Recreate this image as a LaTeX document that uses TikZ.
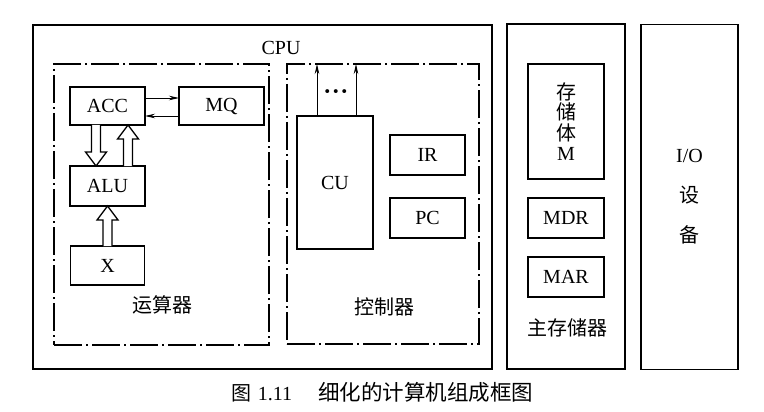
\documentclass[tikz,border=0pt]{standalone}
\usepackage{fontspec}
\setmainfont{Liberation Serif}
\newfontfamily\cjk{Noto Sans CJK SC}
\usetikzlibrary{calc,arrows.meta}
\tikzset{
  bigbox/.style={draw, line width=1.8pt, outer sep=0pt, inner sep=0pt},
  regbox/.style={draw, line width=1.5pt, outer sep=0pt, inner sep=0pt, font=\fontsize{20}{20}\selectfont},
  unitbox/.style={draw, line width=1.2pt, outer sep=0pt, inner sep=0pt,
    dash pattern=on 28pt off 4pt on 2pt off 4pt},
  lbl/.style={inner sep=0pt, font=\fontsize{20}{20}\selectfont},
  cjklbl/.style={inner sep=0pt, font=\fontsize{20}{20}\selectfont\cjk},
  hollow/.style={draw, line width=1.3pt, line join=miter, fill=white},
  thinarrow/.style={line width=0.9pt, -{Stealth[length=10pt,width=4.5pt]}},
}
\newcommand\hollowarrow[2]{%
  \coordinate (ha-s) at #1;
  \coordinate (ha-t) at #2;
  \coordinate (ha-b) at ($(ha-t)!14pt!(ha-s)$);
  \draw[hollow] ($(ha-s)!4.5pt!90:(ha-t)$) -- ($(ha-b)!4.5pt!90:(ha-t)$)
    -- ($(ha-b)!10.5pt!90:(ha-t)$) -- (ha-t) -- ($(ha-b)!10.5pt!-90:(ha-t)$)
    -- ($(ha-b)!4.5pt!-90:(ha-t)$) -- ($(ha-s)!4.5pt!-90:(ha-t)$);
}
\begin{document}
\begin{tikzpicture}[x=1pt,y=-1pt]
\useasboundingbox (0,0) rectangle (764,412);
% outer boxes
\node[bigbox, minimum width=459, minimum height=344] (cpu) at (262.5,197) {};
\node[lbl] (cpulabel) at (281,48) {CPU};
\node[bigbox, minimum width=118, minimum height=345] (mem) at (566,196.5) {};
\node[bigbox, minimum width=97, minimum height=345, align=center,
  font=\fontsize{20}{40}\selectfont] (io) at (689.5,197) {I/O\\{\cjk 设}\\{\cjk 备}};
% arithmetic unit
\node[unitbox, minimum width=215, minimum height=281] (alubox) at (161.5,204.5) {};
\node[cjklbl] (alutext) at (162,305) {运算器};
\node[regbox, minimum width=75, minimum height=38] (acc) at (107.5,106) {ACC};
\node[regbox, minimum width=85, minimum height=38] (mq) at (221.5,106) {MQ};
\node[regbox, minimum width=75, minimum height=40] (alu) at (107.5,186) {ALU};
\node[regbox, minimum width=74, minimum height=39] (x) at (107.5,265.5) {X};
\draw[thinarrow] ([yshift=8pt]acc.east) -- ([yshift=8pt]acc.east -| mq.west);
\draw[thinarrow] ([yshift=-10pt]mq.west) -- ([yshift=-10pt]mq.west -| acc.east);
\hollowarrow{([xshift=-11.5pt]acc.south)}{([xshift=-11.5pt]alu.north)}
\hollowarrow{([xshift=20.5pt]alu.north)}{([xshift=20.5pt]acc.south)}
\hollowarrow{(x.north)}{(alu.south)}
% control unit
\node[unitbox, minimum width=192, minimum height=280] (ctrl) at (383,204) {};
\node[cjklbl] (ctrltext) at (384,307) {控制器};
\node[regbox, minimum width=76, minimum height=133] (cu) at (335,182.5) {CU};
\node[regbox, minimum width=75, minimum height=40] (ir) at (427.5,155) {IR};
\node[regbox, minimum width=75, minimum height=40] (pc) at (427.5,218) {PC};
\draw[thinarrow] ([xshift=-18pt]cu.north) -- ([xshift=-18pt]cu.north |- ctrl.north);
\draw[thinarrow] ([xshift=21pt]cu.north) -- ([xshift=21pt]cu.north |- ctrl.north);
\node[inner sep=0pt, font=\fontsize{24}{24}\bfseries] (dots) at (336,95) {·\hspace{0.5pt}·\hspace{0.5pt}·};
% memory
\node[regbox, minimum width=76, minimum height=115, align=center,
  font=\fontsize{20}{20.5}\selectfont] (m) at (566,121.5) {{\cjk 存}\\{\cjk 储}\\{\cjk 体}\\M};
\node[regbox, minimum width=76, minimum height=40] (mdr) at (566,218) {MDR};
\node[regbox, minimum width=76, minimum height=40] (mar) at (566,277) {MAR};
\node[cjklbl] (memtext) at (567,328) {主存储器};
% caption
\node[lbl] (caption) at (382.5,392) {{\cjk 图}\hspace{6pt}1.11\hspace{26pt}{\cjk\fontsize{21.5}{21.5}\selectfont 细化的计算机组成框图}};
\end{tikzpicture}
\end{document}
